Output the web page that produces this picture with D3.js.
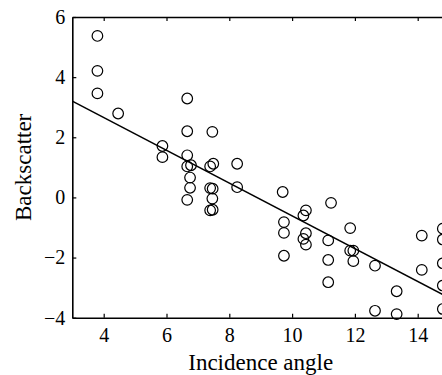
<!DOCTYPE html>
<html>
<head>
<meta charset="utf-8">
<script src="https://cdn.jsdelivr.net/npm/d3@7"></script>
<style>
html,body{margin:0;padding:0;background:#fff;overflow:hidden;width:442px;height:375px;}
svg{display:block;}
svg text{font-family:"Liberation Serif","Times New Roman",serif !important;fill:#000;}
</style>
</head>
<body>
<svg id="chart" width="460" height="375"></svg>
<script>
// Data
const incidence = [3.80,3.80,3.80,4.46,5.87,5.87,
  6.66,6.66,6.66,6.66,6.78,6.75,6.75,6.66,
  7.46,7.39,7.49,7.39,7.47,7.46,7.39,7.47,
  8.25,8.25,
  9.70,9.74,9.74,9.74,
  10.44,10.36,11.24,10.44,10.36,10.44,
  11.15,11.15,11.15,
  11.85,11.85,11.95,11.95,
  12.64,12.64,13.33,13.33,14.13,14.13,
  14.80,14.80,14.80,14.80,14.80];
const backscatter = [5.37,4.21,3.46,2.79,1.71,1.34,
  3.29,2.20,1.40,1.03,1.07,0.66,0.32,-0.08,
  2.18,1.03,1.12,0.31,0.29,-0.04,-0.43,-0.41,
  1.12,0.34,
  0.18,-0.82,-1.18,-1.94,
  -0.43,-0.60,-0.18,-1.19,-1.38,-1.57,
  -1.43,-2.08,-2.82,
  -1.02,-1.77,-1.77,-2.12,
  -2.27,-3.77,-3.12,-3.88,-1.27,-2.41,
  -1.04,-1.40,-2.19,-2.93,-3.71];
const fitX = [3, 15];
const fitY = [3.20, -3.34];
const xTicks = [4, 6, 8, 10, 12, 14];
const yTicks = [-4, -2, 0, 2, 4, 6];
const xLabel = "Incidence angle";
const yLabel = "Backscatter";

(function () {
const FONT = '"Liberation Serif", "Times New Roman", serif';
const svg = d3.select("#chart");
const m = {left: 72.3, top: 17, right: 449.1, bottom: 317.7};
const x = d3.scaleLinear().domain([3, 15]).range([m.left, m.right]);
const y = d3.scaleLinear().domain([-4, 6]).range([m.bottom, m.top]);

// fit line
svg.append("line")
  .attr("x1", x(fitX[0])).attr("y1", y(fitY[0]))
  .attr("x2", x(fitX[1])).attr("y2", y(fitY[1]))
  .attr("stroke", "#000").attr("stroke-width", 1.5);

// points
svg.append("g").selectAll("circle")
  .data(incidence.map((d, i) => [d, backscatter[i]]))
  .join("circle")
  .attr("cx", d => x(d[0])).attr("cy", d => y(d[1]))
  .attr("r", 5.3)
  .attr("fill", "none").attr("stroke", "#000").attr("stroke-width", 1.2);

// axes
const tickLen = 4;
const gBottom = svg.append("g").attr("transform", `translate(0,${m.bottom})`)
  .call(d3.axisBottom(x).tickValues(xTicks).tickSize(-tickLen).tickPadding(10).tickSizeOuter(0));
const gTop = svg.append("g").attr("transform", `translate(0,${m.top})`)
  .call(d3.axisTop(x).tickValues(xTicks).tickSize(-tickLen).tickFormat("").tickSizeOuter(0));
const gLeft = svg.append("g").attr("transform", `translate(${m.left},0)`)
  .call(d3.axisLeft(y).tickValues(yTicks).tickSize(-tickLen).tickPadding(7).tickSizeOuter(0)
    .tickFormat(d => d < 0 ? "\u2212" + Math.abs(d) : d));
const gRight = svg.append("g").attr("transform", `translate(${m.right},0)`)
  .call(d3.axisRight(y).tickValues(yTicks).tickSize(-tickLen).tickFormat("").tickSizeOuter(0));

[gBottom, gTop, gLeft, gRight].forEach(g => {
  g.attr("font-family", FONT).style("font-family", FONT).attr("font-size", 20);
  g.select(".domain").attr("stroke", "#000").attr("stroke-width", 1.6);
  g.selectAll(".tick line").attr("stroke", "#000").attr("stroke-width", 1.2);
  g.selectAll(".tick text").style("font-family", FONT).attr("font-size", 20).attr("fill", "#000");
});
gBottom.selectAll(".tick text").attr("dy", "0.71em");

svg.append("text")
  .attr("x", x(9)).attr("y", 370)
  .attr("text-anchor", "middle").attr("font-size", 23)
  .style("font-family", FONT)
  .text(xLabel);
svg.append("text")
  .attr("transform", `translate(30.5,${(m.top + m.bottom) / 2}) rotate(-90)`)
  .attr("text-anchor", "middle").attr("font-size", 23)
  .style("font-family", FONT)
  .text(yLabel);
})();
</script>
</body>
</html>
